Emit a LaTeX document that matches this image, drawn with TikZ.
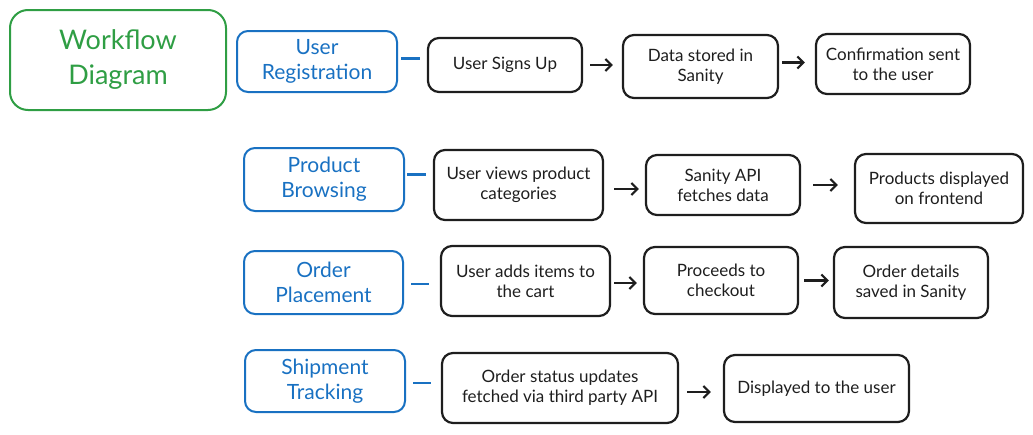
\documentclass[tikz,border=0pt]{standalone}
\usepackage{fontspec}
\setmainfont{Lato}
\usetikzlibrary{arrows.meta}
\definecolor{titlegreen}{HTML}{2F9E44}
\definecolor{stageblue}{HTML}{1971C2}
\definecolor{inkblack}{HTML}{1E1E1E}
\tikzset{
  titlebox/.style={draw=titlegreen, text=titlegreen, line width=2pt, rounded corners=18pt, inner sep=0pt, align=center, font=\fontsize{27}{35}\selectfont},
  stagebox/.style={draw=stageblue, text=stageblue, line width=2pt, rounded corners=11pt, inner sep=0pt, align=center, font=\fontsize{21}{25}\selectfont},
  taskbox/.style={draw=inkblack, text=inkblack, line width=2.2pt, rounded corners=11pt, inner sep=0pt, align=center, font=\fontsize{17}{20}\selectfont},
  link/.style={draw=stageblue, line width=2.2pt},
  flow/.style={draw=inkblack, line width=2.2pt, -{Straight Barb[length=6pt,width=12pt]}},
}

\begin{document}
\begin{tikzpicture}[x=1pt, y=-1pt]
  \useasboundingbox (0,0) rectangle (1033,434);

  \node[titlebox, minimum width=216pt, minimum height=100pt] (title) at (118,60) {Workflow\\Diagram};

  % user registration
  \node[stagebox, minimum width=160pt, minimum height=61pt] (regist) at (317,61.5) {User\\Registration};
  \node[taskbox, minimum width=154pt, minimum height=54pt] (signup) at (505,65) {User Signs Up};
  \node[taskbox, minimum width=155pt, minimum height=63pt] (stored) at (700.5,66.5) {Data stored in\\Sanity};
  \node[taskbox, minimum width=154pt, minimum height=60pt] (confirm) at (893,64) {Confirmation sent\\to the user};
  \draw[link, shorten <=3pt, shorten >=7pt] (regist.east) ++(0,-3) coordinate (r1) -- (r1 -| signup.west);
  \draw[flow, shorten <=7pt, shorten >=9pt] (signup.east) -- (signup.east -| stored.west);
  \draw[flow, shorten <=3pt, shorten >=10pt] (stored.east) ++(0,-4) coordinate (r2) -- (r2 -| confirm.west);

  % product browsing
  \node[stagebox, minimum width=160pt, minimum height=63pt] (browse) at (324,179.5) {Product\\Browsing};
  \node[taskbox, minimum width=169pt, minimum height=70pt] (views) at (518.5,185) {User views product\\categories};
  \node[taskbox, minimum width=154pt, minimum height=60pt] (fetch) at (723,185) {Sanity API\\fetches data};
  \node[taskbox, minimum width=168pt, minimum height=69pt] (shown) at (939,188.5) {Products displayed\\on frontend};
  \draw[link, shorten <=2pt, shorten >=7pt] (browse.east) ++(0,-5) coordinate (b1) -- (b1 -| views.west);
  \draw[flow, shorten <=10pt, shorten >=6pt] (views.east) ++(0,4) coordinate (b2) -- (b2 -| fetch.west);
  \draw[flow, shorten <=12pt, shorten >=16pt] (fetch.east) -- (fetch.east -| shown.west);

  % order placement
  \node[stagebox, minimum width=159pt, minimum height=63pt] (order) at (323.5,282.5) {Order\\Placement};
  \node[taskbox, minimum width=169pt, minimum height=70pt] (adds) at (525.5,281) {User adds items to\\the cart};
  \node[taskbox, minimum width=154pt, minimum height=67pt] (checkout) at (721,280.5) {Proceeds to\\checkout};
  \node[taskbox, minimum width=154pt, minimum height=71pt] (saved) at (911,282.5) {Order details\\saved in Sanity};
  \draw[link, shorten <=7pt, shorten >=11pt] (order.east) ++(0,1.5) coordinate (o1) -- (o1 -| adds.west);
  \draw[flow, shorten <=3pt, shorten >=6pt] (adds.east) ++(0,2) coordinate (o2) -- (o2 -| checkout.west);
  \draw[flow, shorten <=5pt, shorten >=4pt] (checkout.east) -- (checkout.east -| saved.west);

  % shipment tracking
  \node[stagebox, minimum width=160pt, minimum height=62pt] (ship) at (325,381) {Shipment\\Tracking};
  \node[taskbox, minimum width=236pt, minimum height=70pt] (status) at (560,388) {Order status updates\\fetched via third party API};
  \node[taskbox, minimum width=185pt, minimum height=67pt] (display) at (816.5,388.5) {Displayed to the user};
  \draw[link, shorten <=7pt, shorten >=10pt] (ship.east) ++(0,2) coordinate (s1) -- (s1 -| status.west);
  \draw[flow, shorten <=8pt, shorten >=12pt] (status.east) ++(0,4) coordinate (s2) -- (s2 -| display.west);
\end{tikzpicture}
\end{document}
